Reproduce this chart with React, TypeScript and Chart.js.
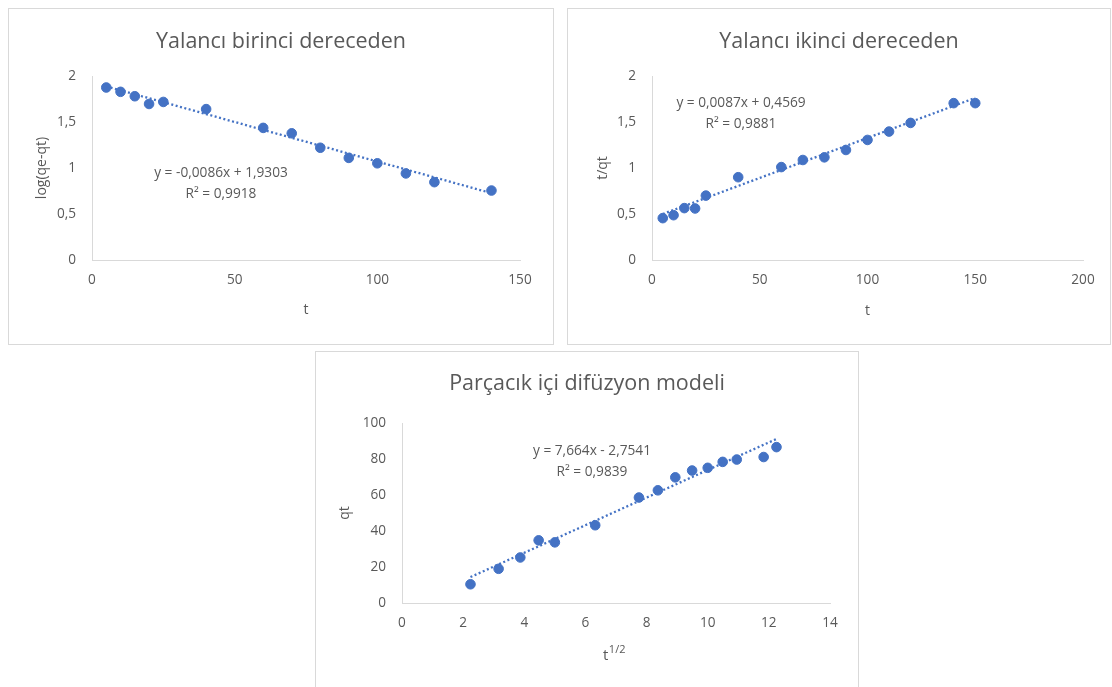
import { useEffect, useRef } from "react";
import { Chart, registerables } from "chart.js";

Chart.register(...registerables);

// Yalancı birinci dereceden: t vs log(qe-qt)
const t1 = [5, 10, 15, 20, 25, 40, 60, 70, 80, 90, 100, 110, 120, 140];
const logQeQt = [1.875, 1.828, 1.78, 1.696, 1.718, 1.64, 1.436, 1.377, 1.22, 1.11, 1.051, 0.941, 0.846, 0.755];
const fit1Slope = -0.0086;
const fit1Intercept = 1.9303;
const fit1Lines = ["y = -0,0086x + 1,9303", "R² = 0,9918"];
const x1Ticks = [0, 50, 100, 150];
const y1Ticks = [0, 0.5, 1, 1.5, 2];

// Yalancı ikinci dereceden: t vs t/qt
const t2 = [5, 10, 15, 20, 25, 40, 60, 70, 80, 90, 100, 110, 120, 140, 150];
const tOverQt = [0.455, 0.487, 0.564, 0.56, 0.7, 0.9, 1.01, 1.087, 1.116, 1.196, 1.305, 1.396, 1.49, 1.705, 1.705];
const fit2Slope = 0.0087;
const fit2Intercept = 0.4569;
const fit2Lines = ["y = 0,0087x + 0,4569", "R² = 0,9881"];
const x2Ticks = [0, 50, 100, 150, 200];
const y2Ticks = [0, 0.5, 1, 1.5, 2];

// Parçacık içi difüzyon modeli: t^1/2 vs qt
const sqrtT = [2.24, 3.16, 3.87, 4.47, 5.0, 6.32, 7.75, 8.37, 8.94, 9.49, 10.0, 10.49, 10.95, 11.83, 12.25];
const qt = [10.4, 19.0, 25.3, 34.8, 33.7, 43.2, 58.6, 62.6, 69.8, 73.6, 75.1, 78.4, 79.7, 81.1, 86.6];
const fit3Slope = 7.664;
const fit3Intercept = -2.7541;
const fit3Lines = ["y = 7,664x - 2,7541", "R² = 0,9839"];
const x3Ticks = [0, 2, 4, 6, 8, 10, 12, 14];
const y3Ticks = [0, 20, 40, 60, 80, 100];

const FONT = "'Open Sans', 'DejaVu Sans', sans-serif";
const TEXT = "#595959";
const BLUE = "#4472C4";
const AXIS = "#d9d9d9";

type Box = { left: number; top: number; width: number; height: number };
type Area = { left: number; right: number; top: number; bottom: number };

type PanelProps = {
  box: Box; // frame position on the page
  area: Area; // plot area inside the canvas
  title: string;
  titleY: number;
  xs: number[];
  ys: number[];
  slope: number;
  intercept: number;
  eqLines: string[];
  eqX: number;
  eqY: number;
  xTicks: number[];
  yTicks: number[];
  xTitle: string;
  xTitleY: number;
  xTitleSup?: string;
  xTitleX?: number;
  yTitle: string;
  yTitleX: number;
};

const fmt = (v: number) => String(v).replace(".", ",");

function Panel(p: PanelProps) {
  const ref = useRef<HTMLCanvasElement | null>(null);
  const cw = p.box.width - 2;
  const ch = p.box.height - 2;

  useEffect(() => {
    const canvas = ref.current;
    if (!canvas) return;
    const { area } = p;
    const titleSize = 21.5;
    const tickSize = 13.6;
    const axSize = 14;
    const axLH = axSize * 1.2;
    const eqSize = 13.7;

    const pts = p.xs.map((x, i) => ({ x, y: p.ys[i] }));
    const x0 = p.xs[0];
    const x1 = p.xs[p.xs.length - 1];
    const trend = [
      { x: x0, y: p.slope * x0 + p.intercept },
      { x: x1, y: p.slope * x1 + p.intercept },
    ];

    // Chart title (centred on the whole frame), trendline equation and the
    // superscripted axis title.
    const overlay = {
      id: "overlay",
      afterDraw(chart: Chart) {
        const ctx = chart.ctx;
        ctx.save();
        ctx.fillStyle = TEXT;
        ctx.textAlign = "center";
        ctx.textBaseline = "middle";
        ctx.font = `${titleSize}px ${FONT}`;
        ctx.fillText(p.title, cw / 2, p.titleY);
        ctx.font = `${eqSize}px ${FONT}`;
        p.eqLines.forEach((line, i) => {
          ctx.fillText(line, p.eqX, p.eqY + i * 21);
        });
        if (p.xTitleSup && p.xTitleX !== undefined) {
          ctx.font = `${axSize + 1}px ${FONT}`;
          const wMain = ctx.measureText(p.xTitle).width;
          ctx.font = `${axSize - 3}px ${FONT}`;
          const wSup = ctx.measureText(p.xTitleSup).width;
          const start = p.xTitleX - (wMain + wSup) / 2;
          ctx.textAlign = "left";
          ctx.font = `${axSize + 1}px ${FONT}`;
          ctx.fillText(p.xTitle, start, p.xTitleY);
          ctx.font = `${axSize - 3}px ${FONT}`;
          ctx.fillText(p.xTitleSup, start + wMain + 0.5, p.xTitleY - 6);
        }
        ctx.restore();
      },
    };

    const chart = new Chart(canvas, {
      type: "scatter",
      data: {
        datasets: [
          {
            type: "line",
            data: trend,
            borderColor: BLUE,
            borderWidth: 2.3,
            borderDash: [2, 2.5],
            pointRadius: 0,
            fill: false,
            order: 0,
          },
          {
            data: pts,
            backgroundColor: BLUE,
            borderColor: BLUE,
            pointRadius: 4.8,
            pointHoverRadius: 4.8,
            order: 1,
          },
        ],
      },
      options: {
        animation: false,
        responsive: false,
        events: [],
        layout: {
          padding: { left: 0, top: area.top, bottom: 0, right: cw - area.right },
        },
        plugins: {
          legend: { display: false },
          tooltip: { enabled: false },
          title: { display: false },
        },
        scales: {
          x: {
            type: "linear",
            min: p.xTicks[0],
            max: p.xTicks[p.xTicks.length - 1],
            afterBuildTicks: (s: any) => {
              s.ticks = p.xTicks.map((v) => ({ value: v }));
            },
            afterFit: (s: any) => {
              s.height = ch - area.bottom;
            },
            grid: { display: false, drawTicks: false },
            border: { display: true, color: AXIS, width: 1 },
            ticks: {
              color: TEXT,
              font: { family: FONT, size: tickSize },
              padding: 12,
              maxRotation: 0,
              callback: (v: any) => fmt(Number(v)),
            },
            title: {
              display: !p.xTitleSup,
              text: p.xTitle,
              color: TEXT,
              font: { family: FONT, size: axSize, lineHeight: 1.2 },
              padding: { top: 0, bottom: ch - p.xTitleY - axLH / 2 },
            },
          },
          y: {
            type: "linear",
            min: p.yTicks[0],
            max: p.yTicks[p.yTicks.length - 1],
            afterBuildTicks: (s: any) => {
              s.ticks = p.yTicks.map((v) => ({ value: v }));
            },
            afterFit: (s: any) => {
              s.width = area.left;
            },
            grid: { display: false, drawTicks: false },
            border: { display: true, color: AXIS, width: 1 },
            ticks: {
              color: TEXT,
              font: { family: FONT, size: tickSize },
              padding: 16,
              callback: (v: any) => fmt(Number(v)),
            },
            title: {
              display: true,
              text: p.yTitle,
              color: TEXT,
              font: { family: FONT, size: axSize, lineHeight: 1.2 },
              padding: { top: p.yTitleX - axLH / 2, bottom: 0 },
            },
          },
        },
      },
      plugins: [overlay],
    });
    return () => chart.destroy();
  }, []);

  const { box } = p;
  return (
    <div
      style={{
        position: "absolute",
        left: box.left,
        top: box.top,
        width: box.width,
        height: box.height,
        border: "1px solid #d9d9d9",
        boxSizing: "border-box",
        background: "#fff",
      }}
    >
      <canvas ref={ref} width={cw} height={ch} style={{ display: "block", width: cw, height: ch }} />
    </div>
  );
}

export default function App() {
  return (
    <div style={{ position: "absolute", left: 0, top: 0, width: 1112, height: 687, background: "#fff", overflow: "hidden" }}>
      <Panel
        box={{ left: 8, top: 8, width: 546, height: 337 }}
        area={{ left: 83, right: 511, top: 67, bottom: 251 }}
        title="Yalancı birinci dereceden"
        titleY={33}
        xs={t1}
        ys={logQeQt}
        slope={fit1Slope}
        intercept={fit1Intercept}
        eqLines={fit1Lines}
        eqX={212}
        eqY={164}
        xTicks={x1Ticks}
        yTicks={y1Ticks}
        xTitle="t"
        xTitleY={301}
        yTitle="log(qe-qt)"
        yTitleX={33}
      />
      <Panel
        box={{ left: 567, top: 8, width: 544, height: 337 }}
        area={{ left: 84, right: 515, top: 67, bottom: 251 }}
        title="Yalancı ikinci dereceden"
        titleY={33}
        xs={t2}
        ys={tOverQt}
        slope={fit2Slope}
        intercept={fit2Intercept}
        eqLines={fit2Lines}
        eqX={173}
        eqY={94}
        xTicks={x2Ticks}
        yTicks={y2Ticks}
        xTitle="t"
        xTitleY={302}
        yTitle="t/qt"
        yTitleX={35}
      />
      <Panel
        box={{ left: 315, top: 351, width: 544, height: 345 }}
        area={{ left: 86, right: 514, top: 71, bottom: 251 }}
        title="Parçacık içi difüzyon modeli"
        titleY={32}
        xs={sqrtT}
        ys={qt}
        slope={fit3Slope}
        intercept={fit3Intercept}
        eqLines={fit3Lines}
        eqX={276}
        eqY={99}
        xTicks={x3Ticks}
        yTicks={y3Ticks}
        xTitle="t"
        xTitleSup="1/2"
        xTitleX={298}
        xTitleY={304}
        yTitle="qt"
        yTitleX={29}
      />
    </div>
  );
}
